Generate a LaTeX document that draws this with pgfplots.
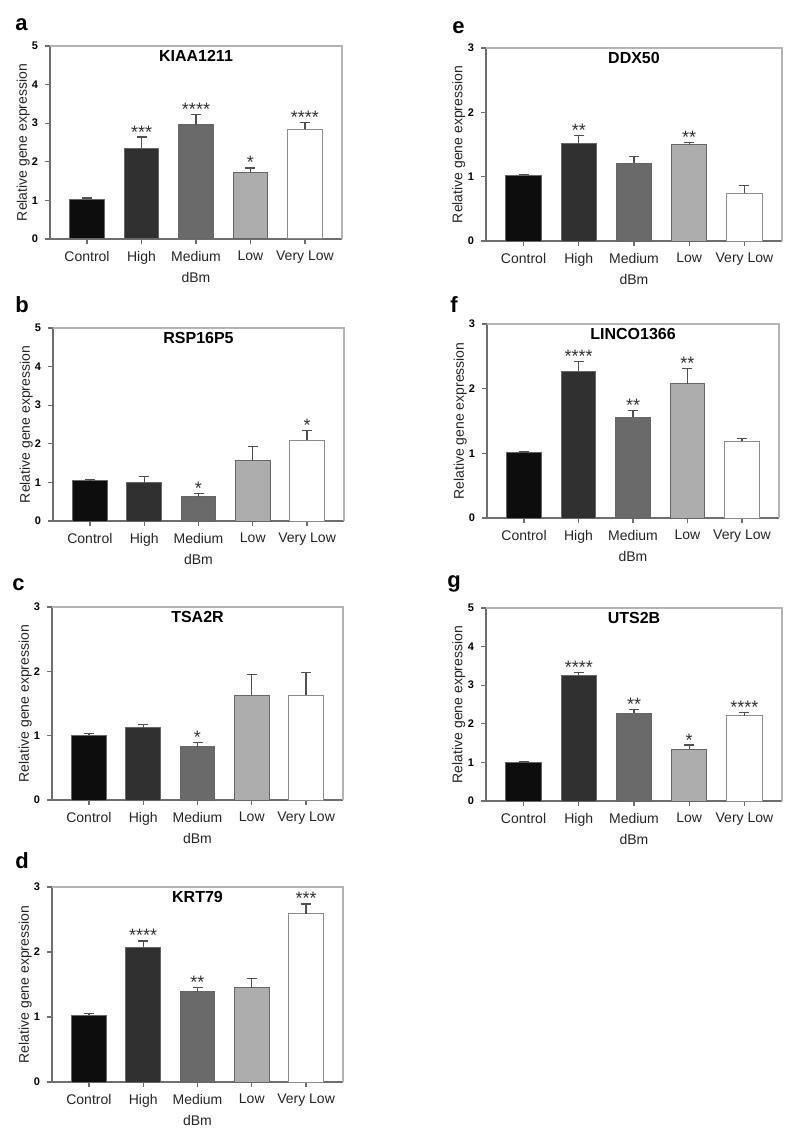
\documentclass[border=0pt]{standalone}
\usepackage{fontspec}
\setmainfont{Liberation Sans}
\usepackage{pgfplots}
\usepackage{pgfplotstable}
\pgfplotsset{compat=1.18}

\definecolor{cA}{HTML}{0D0D0D}
\definecolor{cB}{HTML}{303030}
\definecolor{cC}{HTML}{6A6A6A}
\definecolor{cD}{HTML}{ADADAD}
\definecolor{cE}{HTML}{FFFFFF}
\definecolor{framec}{HTML}{6E6E6E}
\definecolor{framel}{HTML}{B4B4B4}
\definecolor{errc}{HTML}{505050}

% KIAA1211
\pgfplotstableread{
x y e s
0 1.03 0.03 {}
1 2.35 0.29 ***
2 2.96 0.26 ****
3 1.72 0.12 *
4 2.84 0.18 ****
}\tabA
% RSP16P5
\pgfplotstableread{
x y e s
0 1.04 0.03 {}
1 0.99 0.16 {}
2 0.63 0.09 *
3 1.56 0.37 {}
4 2.09 0.25 *
}\tabB
% TSA2R
\pgfplotstableread{
x y e s
0 1.01 0.02 {}
1 1.12 0.05 {}
2 0.83 0.06 *
3 1.63 0.32 {}
4 1.63 0.35 {}
}\tabC
% KRT79
\pgfplotstableread{
x y e s
0 1.03 0.02 {}
1 2.07 0.10 ****
2 1.39 0.07 **
3 1.45 0.14 {}
4 2.59 0.15 ***
}\tabD
% DDX50
\pgfplotstableread{
x y e s
0 1.02 0.01 {}
1 1.52 0.12 **
2 1.21 0.10 {}
3 1.50 0.03 **
4 0.74 0.12 {}
}\tabE
% LINCO1366
\pgfplotstableread{
x y e s
0 1.01 0.01 {}
1 2.27 0.15 ****
2 1.56 0.10 **
3 2.08 0.23 **
4 1.19 0.04 {}
}\tabF
% UTS2B
\pgfplotstableread{
x y e s
0 1.00 0.01 {}
1 3.26 0.07 ****
2 2.27 0.11 **
3 1.34 0.11 *
4 2.21 0.09 ****
}\tabG

\pgfplotsset{
 panel/.style={
  scale only axis, xmin=-0.68, xmax=4.68, ymin=0,
  axis lines*=left,
  xtick={0,1,2,3,4}, xticklabels={Control,High,Medium,Low,Very Low},
  axis line style={framec, line width=0.6pt},
  major tick style={framec, line width=0.6pt},
  major tick length=2.5pt, tick align=outside,
  xticklabel style={font=\fontsize{7}{8}\selectfont, color=black!85},
  yticklabel style={font=\fontsize{5.5}{6}\selectfont\bfseries},
  /pgf/number format/assume math mode=true,
  xlabel={dBm}, ylabel={Relative gene expression},
  label style={font=\fontsize{7}{8}\selectfont, color=black!85},
  xlabel style={at={(axis description cs:0.5,-0.197)}, anchor=center},
  ylabel style={at={(axis description cs:-0.092,0.5)}, anchor=center},
  after end axis/.code={\draw[framel, line width=0.6pt] (rel axis cs:0,1) -- (rel axis cs:1,1) -- (rel axis cs:1,0);},
 },
 gbar/.style={ybar, bar shift=0pt, bar width=0.64, draw=black!60, line width=0.5pt, fill=#1,
   error bars/y dir=plus, error bars/y explicit,
   error bars/error bar style={errc, line width=0.6pt},
   error bars/error mark options={rotate=90, mark size=2.5pt, errc, line width=0.6pt}},
}

\newcommand{\bars}[1]{%
 \addplot[gbar=cA, restrict x to domain=-0.1:0.1] table[x=x,y=y,y error=e]{#1};
 \addplot[gbar=cB, restrict x to domain=0.9:1.1] table[x=x,y=y,y error=e]{#1};
 \addplot[gbar=cC, restrict x to domain=1.9:2.1] table[x=x,y=y,y error=e]{#1};
 \addplot[gbar=cD, restrict x to domain=2.9:3.1] table[x=x,y=y,y error=e]{#1};
 \addplot[gbar=cE, draw=black!45, restrict x to domain=3.9:4.1] table[x=x,y=y,y error=e]{#1};
 \addplot[draw=none, mark=none, nodes near coords, point meta=explicit symbolic,
   nodes near coords style={anchor=base, font=\fontsize{9}{9}\selectfont, color=black!80, yshift=-0.5pt}]
   table[x=x, y expr=\thisrow{y}+\thisrow{e}, meta=s]{#1};
}

\newcommand{\panel}[7]{%
 \begin{axis}[panel, at={(#1pt,#2pt)}, anchor=north west, width=#3pt, height=#4pt,
   ymax=#5, ytick={0,...,#5}]
 \bars{#7}
 \node[anchor=center, font=\fontsize{8}{9}\selectfont\bfseries] at (rel axis cs:0.5,0.948) {#6};
 \end{axis}}

\begin{document}
\begin{tikzpicture}
\useasboundingbox (0,0) rectangle (400pt,-567.5pt);
\fill[white] (0,0) rectangle (400pt,-567.5pt);
\panel{25}{-23}{146}{96.5}{5}{KIAA1211}{\tabA}
\panel{26.5}{-164}{145.5}{96.5}{5}{RSP16P5}{\tabB}
\panel{26}{-303.5}{145.5}{96.5}{3}{TSA2R}{\tabC}
\panel{26}{-443.5}{145.5}{97.5}{3}{KRT79}{\tabD}
\panel{243}{-24}{148}{96.5}{3}{DDX50}{\tabE}
\panel{243.5}{-162}{146}{97}{3}{LINCO1366}{\tabF}
\panel{243}{-304}{148}{96.5}{5}{UTS2B}{\tabG}
\begin{scope}[every node/.style={anchor=base west, font=\fontsize{11}{13}\selectfont\bfseries, inner sep=0pt}]
\node at (7.5pt,-15pt) {a};
\node at (7.5pt,-156pt) {b};
\node at (6pt,-295pt) {c};
\node at (7.5pt,-434pt) {d};
\node at (226pt,-16.5pt) {e};
\node at (225pt,-156pt) {f};
\node at (223.5pt,-293.5pt) {g};
\end{scope}
\end{tikzpicture}
\end{document}
